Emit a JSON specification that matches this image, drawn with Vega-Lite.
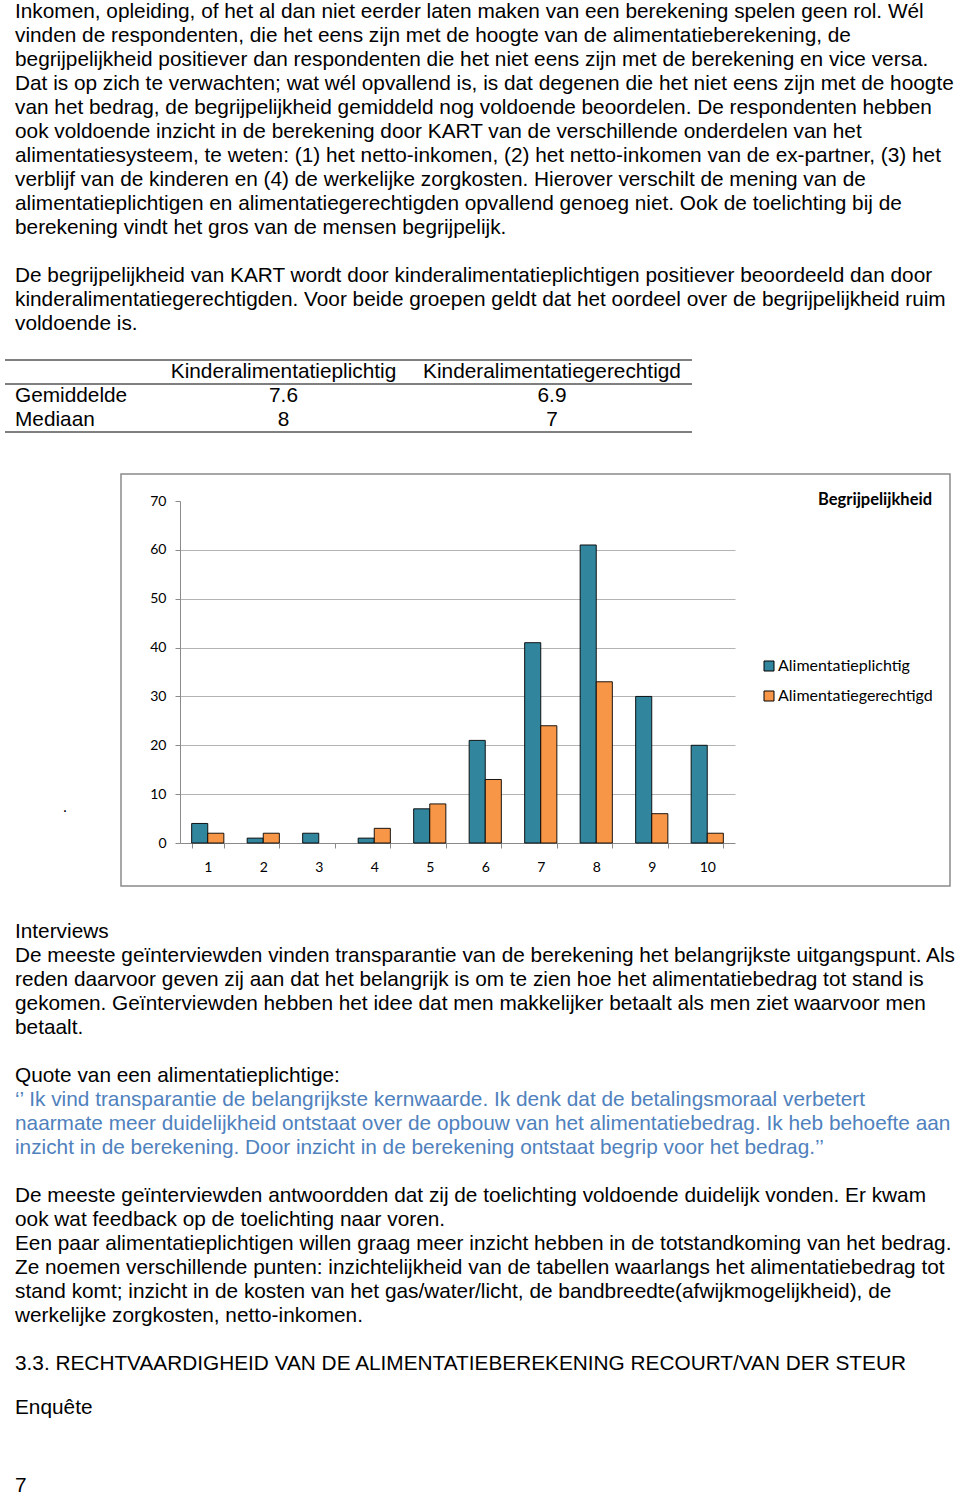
{
  "$schema": "https://vega.github.io/schema/vega-lite/v6.json",
  "padding": 0,
  "background": "white",
  "spacing": 0,
  "config": {
    "view": {"stroke": null},
    "axis": {"labelFont": "Lato", "titleFont": "Lato"},
    "legend": {"labelFont": "Lato"},
    "title": {"font": "Lato"}
  },
  "datasets": {
    "topText": [
      {"line": 0, "text": "Inkomen, opleiding, of het al dan niet eerder laten maken van een berekening spelen geen rol. Wél"},
      {"line": 1, "text": "vinden de respondenten, die het eens zijn met de hoogte van de alimentatieberekening, de"},
      {"line": 2, "text": "begrijpelijkheid positiever dan respondenten die het niet eens zijn met de berekening en vice versa."},
      {"line": 3, "text": "Dat is op zich te verwachten; wat wél opvallend is, is dat degenen die het niet eens zijn met de hoogte"},
      {"line": 4, "text": "van het bedrag, de begrijpelijkheid gemiddeld nog voldoende beoordelen. De respondenten hebben"},
      {"line": 5, "text": "ook voldoende inzicht in de berekening door KART van de verschillende onderdelen van het"},
      {"line": 6, "text": "alimentatiesysteem, te weten: (1) het netto-inkomen, (2) het netto-inkomen van de ex-partner, (3) het"},
      {"line": 7, "text": "verblijf van de kinderen en (4) de werkelijke zorgkosten. Hierover verschilt de mening van de"},
      {"line": 8, "text": "alimentatieplichtigen en alimentatiegerechtigden opvallend genoeg niet. Ook de toelichting bij de"},
      {"line": 9, "text": "berekening vindt het gros van de mensen begrijpelijk."},
      {"line": 11, "text": "De begrijpelijkheid van KART wordt door kinderalimentatieplichtigen positiever beoordeeld dan door"},
      {"line": 12, "text": "kinderalimentatiegerechtigden. Voor beide groepen geldt dat het oordeel over de begrijpelijkheid ruim"},
      {"line": 13, "text": "voldoende is."}
    ],
    "table": [
      {"line": 15, "col": 1, "text": "Kinderalimentatieplichtig"},
      {"line": 15, "col": 2, "text": "Kinderalimentatiegerechtigd"},
      {"line": 16, "col": 0, "text": "Gemiddelde"},
      {"line": 16, "col": 1, "text": "7.6"},
      {"line": 16, "col": 2, "text": "6.9"},
      {"line": 17, "col": 0, "text": "Mediaan"},
      {"line": 17, "col": 1, "text": "8"},
      {"line": 17, "col": 2, "text": "7"}
    ],
    "tableRules": [
      {"boundary": 14.5},
      {"boundary": 15.5},
      {"boundary": 17.5}
    ],
    "scores": [
      {"score": 1, "group": "Alimentatieplichtig", "count": 4},
      {"score": 1, "group": "Alimentatiegerechtigd", "count": 2},
      {"score": 2, "group": "Alimentatieplichtig", "count": 1},
      {"score": 2, "group": "Alimentatiegerechtigd", "count": 2},
      {"score": 3, "group": "Alimentatieplichtig", "count": 2},
      {"score": 4, "group": "Alimentatieplichtig", "count": 1},
      {"score": 4, "group": "Alimentatiegerechtigd", "count": 3},
      {"score": 5, "group": "Alimentatieplichtig", "count": 7},
      {"score": 5, "group": "Alimentatiegerechtigd", "count": 8},
      {"score": 6, "group": "Alimentatieplichtig", "count": 21},
      {"score": 6, "group": "Alimentatiegerechtigd", "count": 13},
      {"score": 7, "group": "Alimentatieplichtig", "count": 41},
      {"score": 7, "group": "Alimentatiegerechtigd", "count": 24},
      {"score": 8, "group": "Alimentatieplichtig", "count": 61},
      {"score": 8, "group": "Alimentatiegerechtigd", "count": 33},
      {"score": 9, "group": "Alimentatieplichtig", "count": 30},
      {"score": 9, "group": "Alimentatiegerechtigd", "count": 6},
      {"score": 10, "group": "Alimentatieplichtig", "count": 20},
      {"score": 10, "group": "Alimentatiegerechtigd", "count": 2}
    ],
    "bottomText": [
      {"line": 0, "kind": "sub", "text": "Interviews"},
      {"line": 1, "kind": "body", "text": "De meeste geïnterviewden vinden transparantie van de berekening het belangrijkste uitgangspunt. Als"},
      {"line": 2, "kind": "body", "text": "reden daarvoor geven zij aan dat het belangrijk is om te zien hoe het alimentatiebedrag tot stand is"},
      {"line": 3, "kind": "body", "text": "gekomen. Geïnterviewden hebben het idee dat men makkelijker betaalt als men ziet waarvoor men"},
      {"line": 4, "kind": "body", "text": "betaalt."},
      {"line": 6, "kind": "sub", "text": "Quote van een alimentatieplichtige:"},
      {"line": 7, "kind": "quote", "text": "‘’ Ik vind transparantie de belangrijkste kernwaarde. Ik denk dat de betalingsmoraal verbetert"},
      {"line": 8, "kind": "quote", "text": "naarmate meer duidelijkheid ontstaat over de opbouw van het alimentatiebedrag. Ik heb behoefte aan"},
      {"line": 9, "kind": "quote", "text": "inzicht in de berekening. Door inzicht in de berekening ontstaat begrip voor het bedrag.’’"},
      {"line": 11, "kind": "body", "text": "De meeste geïnterviewden antwoordden dat zij de toelichting  voldoende duidelijk vonden. Er kwam"},
      {"line": 12, "kind": "body", "text": "ook wat feedback op de toelichting naar voren."},
      {"line": 13, "kind": "body", "text": "Een paar alimentatieplichtigen willen graag meer inzicht hebben in de totstandkoming van het bedrag."},
      {"line": 14, "kind": "body", "text": "Ze noemen verschillende punten: inzichtelijkheid van de tabellen waarlangs het alimentatiebedrag tot"},
      {"line": 15, "kind": "body", "text": "stand komt; inzicht in de kosten van het gas/water/licht, de bandbreedte(afwijkmogelijkheid), de"},
      {"line": 16, "kind": "body", "text": "werkelijke zorgkosten, netto-inkomen."},
      {"line": 18, "kind": "body", "text": "3.3. RECHTVAARDIGHEID VAN DE ALIMENTATIEBEREKENING RECOURT/VAN DER STEUR"},
      {"line": 19.83, "kind": "sub", "text": "Enquête"},
      {"line": 23.08, "kind": "body", "text": "7"}
    ]
  },
  "vconcat": [
    {
      "width": 960,
      "height": 473,
      "layer": [
        {
          "data": {"name": "topText"},
          "mark": {"type": "text", "align": "left", "baseline": "middle", "font": "Liberation Sans", "fontSize": 20.8, "color": "#000000"},
          "encoding": {
            "x": {"datum": 0, "type": "quantitative", "scale": {"domain": [0, 2], "range": [15, 552], "nice": false, "zero": false}, "axis": null},
            "y": {"field": "line", "type": "quantitative", "scale": {"domain": [-0.5, 19.2083], "reverse": true, "nice": false, "zero": false}, "axis": null},
            "text": {"field": "text"}
          }
        },
        {
          "data": {"name": "table"},
          "transform": [{"filter": "datum.col == 0"}],
          "mark": {"type": "text", "align": "left", "baseline": "middle", "font": "Liberation Sans", "fontSize": 20.8, "color": "#000000"},
          "encoding": {
            "x": {"field": "col", "type": "quantitative", "axis": null},
            "y": {"field": "line", "type": "quantitative", "axis": null},
            "text": {"field": "text"}
          }
        },
        {
          "data": {"name": "table"},
          "transform": [{"filter": "datum.col > 0"}],
          "mark": {"type": "text", "align": "center", "baseline": "middle", "font": "Liberation Sans", "fontSize": 20.8, "color": "#000000"},
          "encoding": {
            "x": {"field": "col", "type": "quantitative", "axis": null},
            "y": {"field": "line", "type": "quantitative", "axis": null},
            "text": {"field": "text"}
          }
        },
        {
          "data": {"name": "tableRules"},
          "mark": {"type": "rule", "color": "#000000", "strokeWidth": 1},
          "encoding": {
            "y": {"field": "boundary", "type": "quantitative", "axis": null},
            "x": {"value": 5},
            "x2": {"value": 692}
          }
        }
      ]
    },
    {
      "spacing": 0,
      "bounds": "flush",
      "hconcat": [
        {
          "width": 121,
          "height": 412,
          "data": {"values": [{"note": "."}]},
          "mark": {"type": "text", "align": "center", "baseline": "middle", "font": "Liberation Sans", "fontSize": 16, "color": "#000000"},
          "encoding": {
            "x": {"value": 65},
            "y": {"value": 333},
            "text": {"field": "note"}
          }
        },
        {
          "width": 829,
          "height": 412,
          "view": {"stroke": "#8a8a8a", "strokeWidth": 1.5},
          "title": {"text": "Begrijpelijkheid", "anchor": "end", "orient": "top", "frame": "group", "offset": -34, "dx": -18, "font": "Lato", "fontSize": 16.5, "fontWeight": "bold", "color": "#000000"},
          "data": {"name": "scores"},
          "mark": {"type": "bar", "stroke": "#000000", "strokeWidth": 0.9},
          "encoding": {
            "x": {
              "field": "score", "type": "ordinal",
              "scale": {"range": [59, 614], "paddingInner": 0.42, "paddingOuter": 0.21},
              "axis": {"title": null, "labelAngle": 0, "offset": -43, "domainColor": "#8a8a8a", "tickColor": "#8a8a8a", "tickSize": 5, "tickBand": "extent", "labelPadding": 12, "labelFontSize": 14, "labelColor": "#000000", "labelFont": "Lato", "grid": false}
            },
            "xOffset": {"field": "group", "type": "nominal", "sort": ["Alimentatieplichtig", "Alimentatiegerechtigd"], "scale": {"paddingInner": 0, "paddingOuter": 0}},
            "y": {
              "field": "count", "type": "quantitative",
              "scale": {"domain": [0, 70], "range": [369, 27], "nice": false},
              "axis": {"title": null, "offset": -59, "values": [0, 10, 20, 30, 40, 50, 60, 70], "domainColor": "#8a8a8a", "tickColor": "#8a8a8a", "tickSize": 5, "labelPadding": 9, "labelFontSize": 14, "labelColor": "#000000", "labelFont": "Lato", "grid": true, "gridColor": {"condition": {"test": "datum.value === 70 || datum.value === 0", "value": "transparent"}, "value": "#b4b4b4"}, "gridWidth": 1}
            },
            "color": {
              "field": "group", "type": "nominal",
              "scale": {"domain": ["Alimentatieplichtig", "Alimentatiegerechtigd"], "range": ["#31859c", "#f79646"]},
              "legend": {"title": null, "orient": "none", "legendX": 761, "legendY": 658, "symbolType": "square", "symbolSize": 100, "symbolStrokeColor": "#000000", "symbolStrokeWidth": 1, "labelFont": "Lato", "labelFontSize": 16, "labelColor": "#000000", "rowPadding": 14, "labelOffset": 1}
            }
          }
        }
      ]
    },
    {
      "width": 960,
      "height": 611,
      "layer": [
        {
          "data": {"name": "bottomText"},
          "transform": [{"filter": "datum.kind != 'quote'"}],
          "mark": {"type": "text", "align": "left", "baseline": "middle", "font": "Liberation Sans", "fontSize": 20.8, "color": "#000000"},
          "encoding": {
            "x": {"datum": 0, "type": "quantitative", "scale": {"domain": [0, 2], "range": [15, 552], "nice": false, "zero": false}, "axis": null},
            "y": {"field": "line", "type": "quantitative", "scale": {"domain": [-1.875, 23.5833], "reverse": true, "nice": false, "zero": false}, "axis": null},
            "text": {"field": "text"}
          }
        },
        {
          "data": {"name": "bottomText"},
          "transform": [{"filter": "datum.kind == 'quote'"}],
          "mark": {"type": "text", "align": "left", "baseline": "middle", "font": "Liberation Sans", "fontSize": 20.8, "color": "#4f81bd"},
          "encoding": {
            "x": {"datum": 0, "type": "quantitative", "axis": null},
            "y": {"field": "line", "type": "quantitative", "axis": null},
            "text": {"field": "text"}
          }
        }
      ]
    }
  ]
}
